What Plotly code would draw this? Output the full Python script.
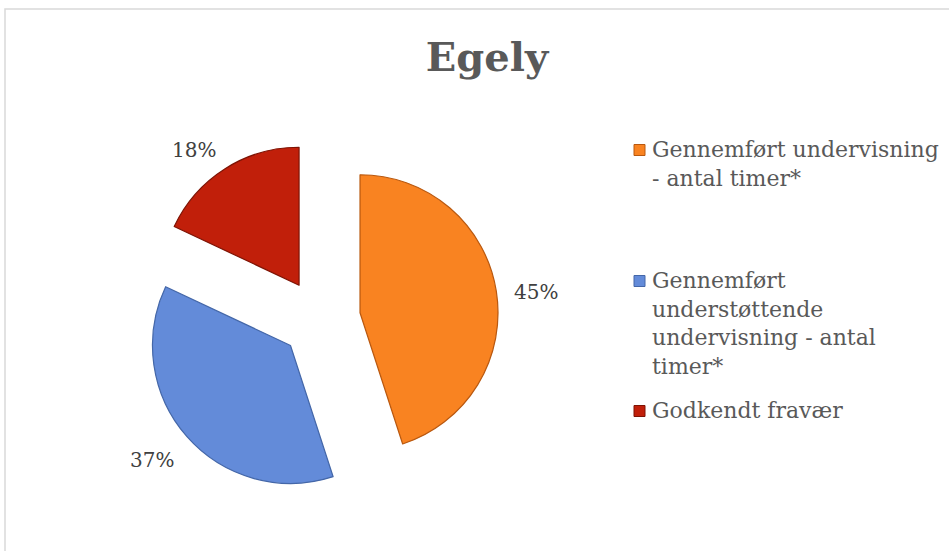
import math
import plotly.graph_objects as go

# Share of hours, Egely
categories = [
    "Gennemført undervisning - antal timer*",
    "Gennemført understøttende undervisning - antal timer*",
    "Godkendt fravær",
]
legend_lines = [
    ["Gennemført undervisning", "- antal timer*"],
    ["Gennemført", "understøttende", "undervisning - antal", "timer*"],
    ["Godkendt fravær"],
]
values = [45, 37, 18]
colors = ["#F98321", "#638BD9", "#C11F0A"]
edge_colors = ["#B9580F", "#4467A8", "#7E1304"]

W, H = 949, 551
PULL = 0.29
LABEL_SIZE = 20


def px(x):
    return x / W


def py(y):
    return 1 - y / H


# Pie box in pixels: centre and side length of the square domain
cx, cy, side = 320.5, 319, 356
r = side / (2 + 2 * PULL)

fig = go.Figure()

fig.add_trace(go.Pie(
    labels=categories,
    values=values,
    sort=False,
    direction="clockwise",
    rotation=0,
    pull=[PULL] * len(values),
    marker=dict(colors=colors, line=dict(color=edge_colors, width=1.2)),
    textinfo="none",
    domain=dict(x=[px(cx - side / 2), px(cx + side / 2)],
                y=[py(cy + side / 2), py(cy - side / 2)]),
    showlegend=False,
    hoverinfo="label+percent",
))

# Percentage labels just outside each exploded slice's arc, along its bisector
total = sum(values)
annotations = []
start = 0.0
gap = 17
for v in values:
    frac = v / total
    text = f"{round(frac * 100)}%"
    mid = math.radians((start + frac / 2) * 360)
    dx, dy = math.sin(mid), -math.cos(mid)
    hw = 0.75 * LABEL_SIZE * len(text) / 2   # half text width
    hh = 0.55 * LABEL_SIZE                   # half text height
    ax = cx + (PULL * r + r + gap) * dx + hw * math.copysign(1, dx)
    ay = cy + (PULL * r + r + gap) * dy + hh * dy + 5
    annotations.append(dict(
        xref="paper", yref="paper", x=px(ax), y=py(ay),
        xanchor="center", yanchor="middle", showarrow=False,
        text=text,
        font=dict(family="DejaVu Serif", size=LABEL_SIZE, color="#404040"),
    ))
    start += frac

# Legend beside the pie: swatch + wrapped label per category
swatch_centers = [150, 281, 411]
shapes = []
for lines, col, edge, yc in zip(legend_lines, colors, edge_colors, swatch_centers):
    shapes.append(dict(
        type="rect", xref="paper", yref="paper",
        x0=px(634), x1=px(645), y0=py(yc + 5.5), y1=py(yc - 5.5),
        fillcolor=col, line=dict(color=edge, width=1),
    ))
    annotations.append(dict(
        xref="paper", yref="paper", x=px(650), y=py(yc - 15),
        xanchor="left", yanchor="top", align="left",
        text="<br>".join(lines), showarrow=False,
        font=dict(family="DejaVu Serif", size=22, color="#595959"),
    ))

# Chart area frame
shapes.append(dict(
    type="rect", xref="paper", yref="paper",
    x0=px(5), x1=px(W + 20), y0=py(H + 20), y1=py(9),
    line=dict(color="#D9D9D9", width=1.5), fillcolor="rgba(0,0,0,0)",
    layer="below",
))

fig.update_layout(
    width=W, height=H,
    margin=dict(l=0, r=0, t=0, b=0),
    paper_bgcolor="white",
    plot_bgcolor="white",
    title=dict(
        text="<b>Egely</b>", x=px(487), xanchor="center",
        y=py(57), yanchor="middle",
        font=dict(family="DejaVu Serif", size=40, color="#595959"),
    ),
    shapes=shapes,
    annotations=annotations,
)

fig.write_html("out.html")
